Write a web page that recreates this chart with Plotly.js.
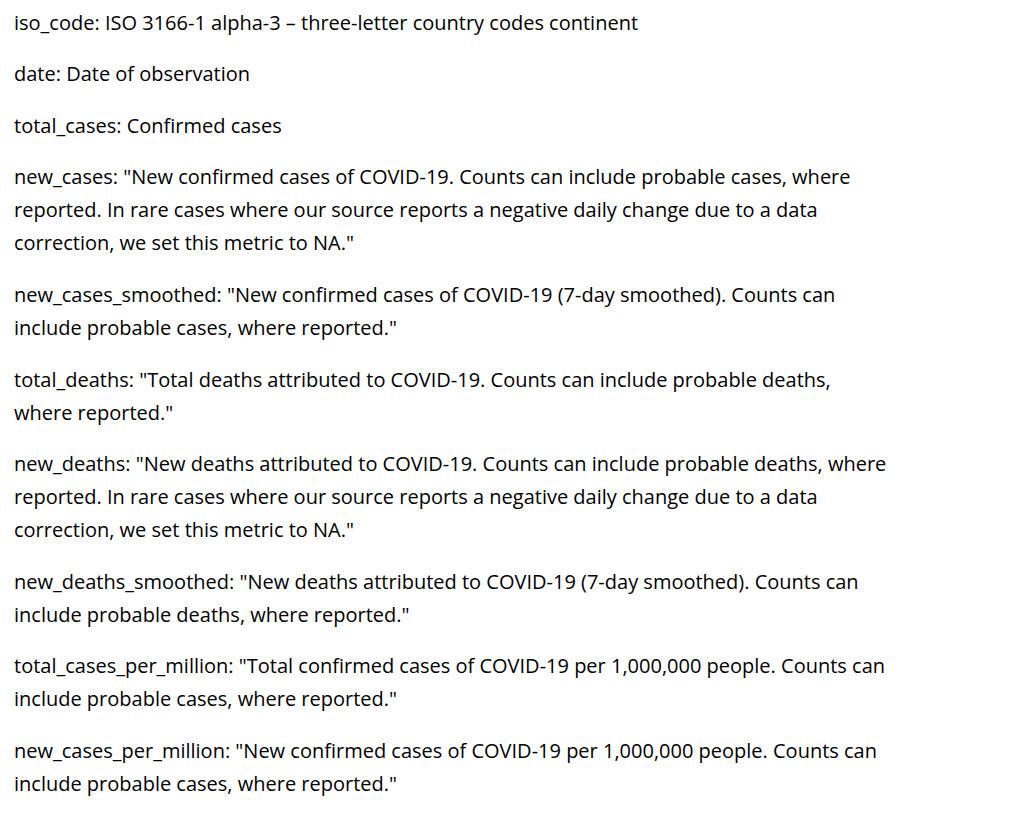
<!DOCTYPE html>
<html><head><meta charset="utf-8">
<script src="https://cdn.plot.ly/plotly-3.0.1.min.js"></script>
<style>html,body{margin:0;padding:0;background:#fff}</style>
</head><body><div id="chart" style="width:1011px;height:814px"></div>
<script>
const fieldNames = ["iso_code","date","total_cases","new_cases","new_cases_smoothed","total_deaths","new_deaths","new_deaths_smoothed","total_cases_per_million","new_cases_per_million"];
const descriptionLines = [
 ["ISO 3166-1 alpha-3 – three-letter country codes continent"],
 ["Date of observation"],
 ["Confirmed cases"],
 ["\"New confirmed cases of COVID-19. Counts can include probable cases, where","reported. In rare cases where our source reports a negative daily change due to a data","correction, we set this metric to NA.\""],
 ["\"New confirmed cases of COVID-19 (7-day smoothed). Counts can","include probable cases, where reported.\""],
 ["\"Total deaths attributed to COVID-19. Counts can include probable deaths,","where reported.\""],
 ["\"New deaths attributed to COVID-19. Counts can include probable deaths, where","reported. In rare cases where our source reports a negative daily change due to a data","correction, we set this metric to NA.\""],
 ["\"New deaths attributed to COVID-19 (7-day smoothed). Counts can","include probable deaths, where reported.\""],
 ["\"Total confirmed cases of COVID-19 per 1,000,000 people. Counts can","include probable cases, where reported.\""],
 ["\"New confirmed cases of COVID-19 per 1,000,000 people. Counts can","include probable cases, where reported.\""]
];
const ann = [];
let y = 22;
fieldNames.forEach((f,i)=>{
  descriptionLines[i].forEach((l,j)=>{
    ann.push({x:12,y:y,xref:'x',yref:'y',xanchor:'left',yanchor:'middle',showarrow:false,
      text:(j===0? f+": ":"")+l,font:{family:'"Open Sans", sans-serif',size:20,color:'#000'}});
    y += 33;
  });
  y += 18.6;
});
Plotly.newPlot('chart',[],{
  width:1011,height:814,margin:{l:0,r:0,t:0,b:0},paper_bgcolor:'#fff',plot_bgcolor:'#fff',
  xaxis:{range:[0,1011],visible:false,fixedrange:true},
  yaxis:{range:[814,0],visible:false,fixedrange:true},
  annotations:ann,showlegend:false
},{displayModeBar:false,staticPlot:true});
</script></body></html>
